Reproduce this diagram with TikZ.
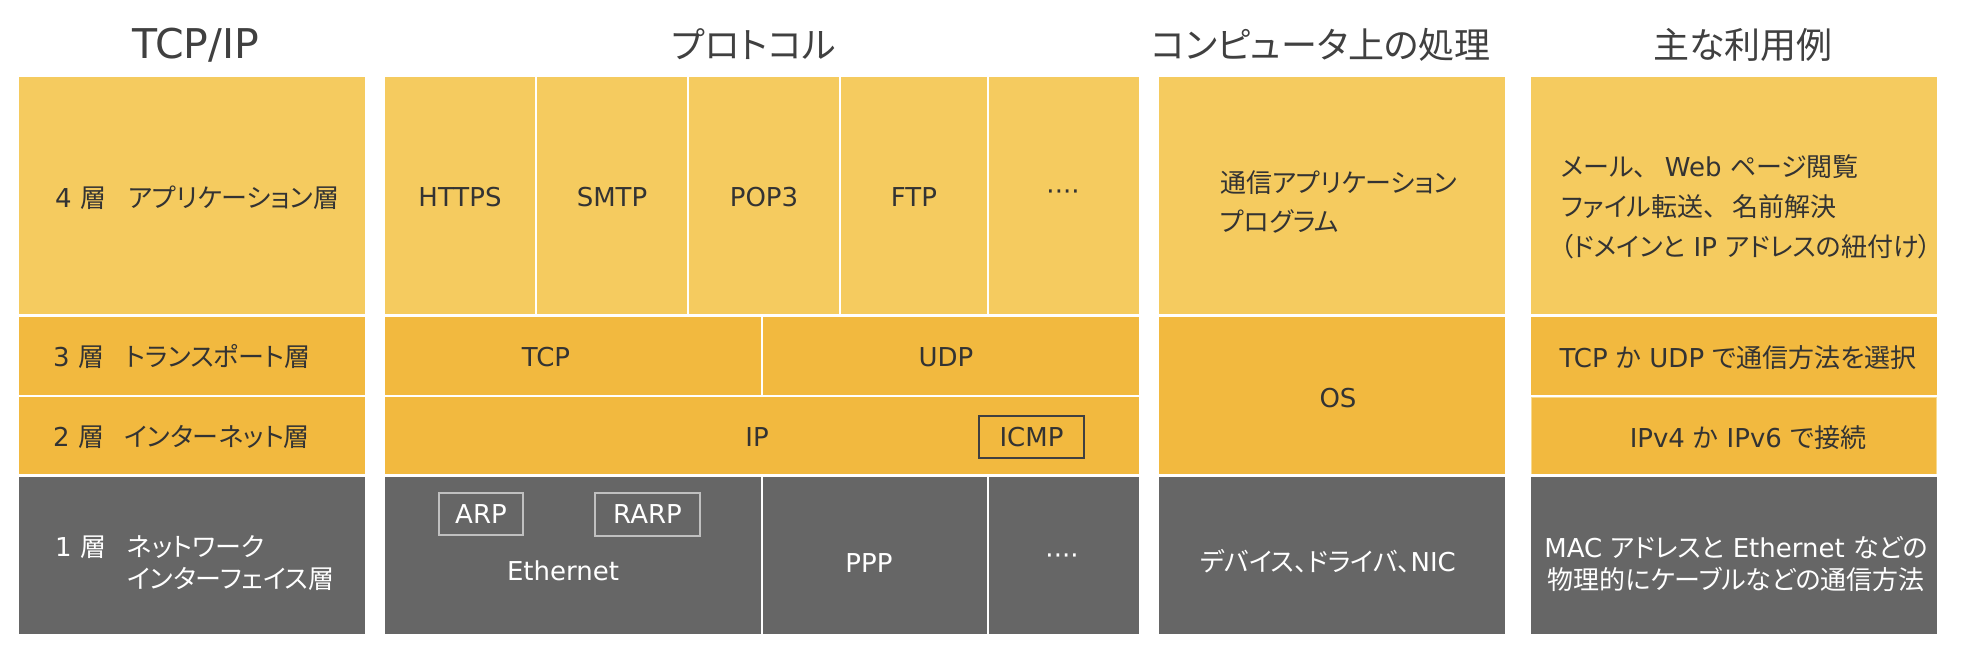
\documentclass[tikz,border=0pt]{standalone}
\usepackage{fontspec}
\setmainfont{DejaVu Sans}
\newfontfamily\jpf{Noto Sans CJK JP}[RawFeature=+palt]
\definecolor{ylight}{HTML}{F5CB5F}
\definecolor{ymid}{HTML}{F2B93F}
\definecolor{gcell}{HTML}{666666}
\definecolor{tdark}{HTML}{333333}
\definecolor{hdark}{HTML}{404040}
\definecolor{boxline}{HTML}{C0C0C0}
\definecolor{faint}{HTML}{F7D98E}
\begin{document}
\begin{tikzpicture}[x=1pt,y=-1pt,
  hdr/.style={font=\fontsize{36}{44}\selectfont, text=hdark, inner sep=0pt, anchor=base},
  lbl/.style={font=\fontsize{26}{32}\selectfont, text=tdark, inner sep=0pt, anchor=base},
  lblw/.style={lbl, text=white},
  lblL/.style={lbl, anchor=base west},
  lblLw/.style={lblw, anchor=base west},
  sepline/.style={draw=white, line width=2.4pt},
  tagbox/.style={font=\fontsize{26}{32}\selectfont, inner sep=0pt, line width=1.4pt, anchor=center},
]
\useasboundingbox (0,0) rectangle (1961,653);
\fill[white] (0,0) rectangle (1961,653);

% ---------- cells ----------
% column 1
\fill[ylight] (19,77) rectangle (365,315.5);
\fill[ymid]   (19,315.5) rectangle (365,475.5);
\fill[gcell]  (19,475.5) rectangle (365,634);
% column 2
\fill[ylight] (385,77) rectangle (1139,315.5);
\fill[ymid]   (385,315.5) rectangle (1139,475.5);
\fill[gcell]  (385,475.5) rectangle (1139,634);
% column 3
\fill[ylight] (1159,77) rectangle (1505,315.5);
\fill[ymid]   (1159,315.5) rectangle (1505,475.5);
\fill[gcell]  (1159,475.5) rectangle (1505,634);
% column 4
\fill[ylight] (1531,77) rectangle (1937,315.5);
\fill[ymid]   (1531,315.5) rectangle (1937,475.5);
\fill[gcell]  (1531,475.5) rectangle (1937,634);
\draw[faint, line width=1pt] (1531.5,397) rectangle (1936.5,475);

% ---------- separators ----------
\draw[sepline] (0,315.5) -- (1961,315.5);
\draw[sepline] (0,475.5) -- (1961,475.5);
\draw[sepline] (19,396) -- (365,396);
\draw[sepline] (385,396) -- (1139,396);
\draw[sepline] (1531,396) -- (1937,396);
\draw[sepline] (536,77) -- (536,315.5);
\draw[sepline] (688,77) -- (688,315.5);
\draw[sepline] (840,77) -- (840,315.5);
\draw[sepline] (988,77) -- (988,315.5);
\draw[sepline] (762,315.5) -- (762,396);
\draw[sepline] (762,475.5) -- (762,634);
\draw[sepline] (988,475.5) -- (988,634);

% ---------- headers ----------
\node[hdr, font=\fontsize{41}{48}\selectfont] (h1) at (196,58) {TCP/IP};
\node[hdr] (h2) at (754,58) {\jpf プロトコル};
\node[hdr] (h3) at (1321,58) {\jpf コンピュータ上の処理};
\node[hdr] (h4) at (1743,58) {\jpf 主な利用例};

% ---------- column 1 ----------
\node[lblL] (n4) at (55,207.6) {4 {\jpf 層}};
\node[lblL] (t4) at (128,207.6) {\jpf アプリケーション層};
\node[lblL] (n3) at (53,366.6) {3 {\jpf 層}};
\node[lblL] (t3) at (125,366.6) {\jpf トランスポート層};
\node[lblL] (n2) at (53,446.6) {2 {\jpf 層}};
\node[lblL] (t2) at (124,446.6) {\jpf インターネット層};
\node[lblLw] (n1) at (55,556) {1 {\jpf 層}};
\node[lblLw] (t1a) at (127,556) {\jpf ネットワーク};
\node[lblLw] (t1b) at (127,588.6) {\jpf インターフェイス層};

% ---------- column 2 ----------
\node[lbl] (https) at (460,206.5) {HTTPS};
\node[lbl] (smtp) at (612,206.5) {SMTP};
\node[lbl] (pop3) at (764,206.5) {POP3};
\node[lbl] (ftp) at (914,206.5) {FTP};
\node[lbl] (more4) at (1063,200.6) {····};
\node[lbl] (tcp) at (546,366.6) {TCP};
\node[lbl] (udp) at (946,366.6) {UDP};
\node[lbl] (ip) at (757,446.6) {IP};
\node[tagbox, draw=hdark, text=tdark, minimum width=105pt, minimum height=42pt] (icmp) at (1031.5,437) {ICMP};
\node[tagbox, draw=boxline, text=white, minimum width=84pt, minimum height=42pt] (arp) at (481,514) {ARP};
\node[tagbox, draw=boxline, text=white, minimum width=105pt, minimum height=43pt] (rarp) at (647.5,514.5) {RARP};
\node[lblw] (eth) at (563,580) {Ethernet};
\node[lblw] (ppp) at (869,572) {PPP};
\node[lblw] (more1) at (1062,564.6) {····};

% ---------- column 3 ----------
\node[lblL] (app1) at (1220,192.6) {\jpf 通信アプリケーション};
\node[lblL] (app2) at (1220,231.6) {\jpf プログラム};
\node[lbl] (os) at (1338,407) {OS};
\node[lblw] (dev) at (1328,571) {{\jpf デバイス、ドライバ、}NIC};

% ---------- column 4 ----------
\node[lblL] (use1) at (1561,176) {{\jpf メール、}\hspace*{18pt}Web {\jpf ページ閲覧}};
\node[lblL] (use2) at (1561,216) {{\jpf ファイル転送、}\hspace*{16pt}{\jpf 名前解決}};
\node[lblL] (use3) at (1560,256) {{\jpf （ドメインと} IP {\jpf アドレスの紐付け）}};
\node[lbl] (use4) at (1738,367) {TCP {\jpf か} UDP {\jpf で通信方法を選択}};
\node[lbl] (use5) at (1748,447) {IPv4 {\jpf か} IPv6 {\jpf で接続}};
\node[lblw] (use6) at (1736,557) {MAC {\jpf アドレスと} Ethernet {\jpf などの}};
\node[lblw] (use7) at (1736,589) {\jpf 物理的にケーブルなどの通信方法};
\end{tikzpicture}
\end{document}
